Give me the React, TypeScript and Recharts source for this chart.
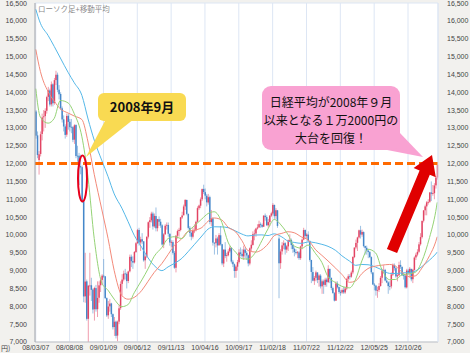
import React from 'react';
import { ComposedChart, Bar, Line, XAxis, YAxis, CartesianGrid, ReferenceLine } from 'recharts';

const tickLabels = ['08/03/07','08/08/08','09/01/09','09/06/12','09/11/13','10/04/16','10/09/17','11/02/18','11/07/22','11/12/22','12/05/25','12/10/26'];
const TICK_STEP = 22;
const yTicks = [7000,7500,8000,8500,9000,9500,10000,10500,11000,11500,12000,12500,13000,13500,14000,14500,15000,15500,16000,16500];

const opens = [
13460,12790,12100,12270,12830,13300,13330,13480,13870,14050,
13660,14220,13700,14340,14490,14070,13950,13550,13240,13040,
12810,13340,13170,13030,13020,12670,13080,12220,12220,11930,
11900,10940,8280,8700,7650,8580,8590,8470,7920,8510,
7920,8240,8590,8740,8860,8840,8230,7750,8000,8080,
7780,7420,7570,7180,7570,7950,8630,8750,8920,8910,
8710,8980,9390,9270,9230,9520,9770,10140,9790,9880,
9820,9290,9400,9950,10360,10410,10600,10240,10530,10190,
10440,10370,10270,9730,10020,10260,10280,10030,9790,9800,
9500,9080,9980,10110,10140,10490,10550,10800,10980,10590,
10200,10060,9950,10120,10130,10370,10750,10820,11000,11290,
11200,11100,10910,11060,10360,10460,9780,9770,9900,9710,
9990,9740,9200,9590,9410,9430,9540,9640,9250,9180,
8990,9110,9240,9510,9470,9400,9590,9500,9430,9200,
9620,9720,10020,10040,10180,10210,10300,10280,10230,10540,
10500,10270,10360,10540,10600,10840,10530,10690,9900,9210,
9540,9710,9770,9590,9680,9850,9860,9720,9610,9520,
9490,9510,9350,9680,9870,10140,9970,10010,9830,9300,
8960,8720,8800,8950,8740,8860,8560,8700,8600,8750,
8680,9050,8800,8510,8370,8160,8640,8540,8400,8390,
8460,8390,8500,8770,8840,8830,8950,9380,9650,9780,
9930,10130,10010,10080,9690,9640,9560,9520,9380,8950,
8610,8580,8440,8460,8570,8800,9000,9020,8720,8670,
8570,8560,8890,9160,9070,8840,8870,9160,9110,8870,
8860,8530,9000,8930,9050,8760,9020,9370,9450,9530,
9740,9940,10400,10690,10800,10910,10930,11190,11150,11170,
11390,11610
];

const highs = [
13500,12900,12350,12900,13400,13500,13550,13900,14150,14100,
14300,14250,14400,14601,14550,14200,14000,13600,13350,13100,
13400,13400,13250,13250,13050,13100,13100,12500,12300,12250,
11950,10950,9500,8750,8600,9500,8800,8500,8550,8600,
8700,8700,8800,8900,9325,8850,8250,8150,8200,8100,
7800,7700,7600,7600,8050,8700,8900,9000,9050,8950,
9000,9450,9450,9400,9550,9800,10170,10200,9950,10050,
9830,9450,9970,10380,10500,10650,10650,10600,10770,10450,
10520,10450,10300,10050,10300,10350,10350,10050,9850,9850,
9550,10000,10150,10200,10500,10650,10850,11000,10990,10600,
10250,10100,10200,10300,10400,10800,10850,11050,11300,11408,
11300,11150,11150,11100,10700,10500,9800,10000,9950,10050,
10250,9750,9600,9800,9500,9600,9700,9650,9300,9200,
9150,9300,9600,9650,9600,9700,9650,9550,9450,9650,
9850,10100,10150,10200,10300,10400,10350,10320,10550,10600,
10550,10450,10550,10650,10891,10850,10750,10700,9960,9600,
9800,9850,9800,9720,9870,10017,9900,9750,9650,9600,
9550,9550,9700,9900,10200,10150,10050,10100,9850,9300,
9100,8850,9000,8950,8900,8900,8750,8750,8800,8800,
9150,9050,8800,8550,8400,8700,8700,8550,8450,8500,
8550,8550,8800,8900,8900,9000,9400,9650,9870,9950,
10150,10255,10150,10100,9700,9700,9600,9550,9400,8950,
8650,8600,8550,8650,8850,9050,9150,9050,8800,8700,
8700,8950,9200,9200,9100,8900,9250,9290,9100,8900,
8900,9050,9050,9100,9050,9050,9400,9500,9600,9800,
10050,10400,10700,10850,10950,11000,11200,11500,11400,11450,
11650,12000
];

const lows = [
12700,12150,11691,12200,12650,12900,13000,13400,13750,13600,
13600,13600,13650,14200,14000,13800,13500,13150,12900,12700,
12750,12950,12900,12850,12600,12550,12150,12050,11400,11700,
10900,8115,8100,7600,6995,8300,8150,7800,7600,7850,
7700,8100,8400,8600,8800,8200,7700,7650,7850,7700,
7350,7170,7100,7021,7500,7900,8300,8700,8750,8500,
8650,8950,9100,9050,9200,9500,9750,9700,9550,9750,
9250,9050,9350,9900,10200,10350,10150,10200,10100,10100,
10250,10200,9700,9630,10000,10150,9950,9700,9650,9450,
9050,8950,9900,9950,10100,10450,10550,10700,10550,10150,
9950,9850,9900,10050,10100,10350,10700,10750,10950,11150,
11000,10800,10850,10300,10250,9700,9450,9650,9450,9700,
9700,9150,9100,9350,9250,9400,9500,9200,9100,8800,
8800,9000,9200,9400,9350,9300,9350,9300,9120,9150,
9550,9700,9850,9950,10150,10200,10200,10200,10230,10400,
10250,10200,10250,10500,10550,10450,10450,10200,8227,9050,
9450,9600,9450,9500,9550,9800,9600,9500,9400,9450,
9350,9300,9300,9600,9850,9900,9900,9800,9250,8650,
8700,8600,8700,8650,8550,8500,8350,8350,8550,8550,
8650,8650,8450,8350,8135,8150,8500,8350,8300,8350,
8350,8350,8450,8700,8750,8800,8900,9350,9600,9550,
9900,9900,9950,9650,9450,9450,9350,9350,8900,8600,
8450,8300,8238,8400,8550,8650,8950,8700,8650,8350,
8450,8500,8850,9000,8800,8700,8850,9050,8850,8750,
8500,8500,8900,8800,8700,8650,9000,9300,9400,9500,
9700,9900,10350,10550,10550,10850,10900,10950,11100,11000,
11300,11550
];

const closes = [
12782,12241,12260,12821,13293,13323,13476,13863,14049,13655,
14219,13690,14338,14489,14068,13942,13544,13237,13039,12803,
13334,13168,13021,13019,12666,13072,12212,12215,11920,11893,
10938,8276,8693,7649,8576,8583,8462,7910,8512,7917,
8235,8588,8739,8859,8836,8230,7745,7994,8076,7779,
7416,7568,7173,7569,7945,8626,8749,8916,8907,8707,
8977,9386,9265,9225,9522,9768,10135,9786,9877,9816,
9287,9395,9944,10356,10412,10598,10238,10534,10187,10444,
10370,10265,9731,10016,10257,10282,10034,9789,9804,9497,
9081,9977,10107,10142,10494,10546,10798,10982,10590,10198,
10057,9951,10123,10126,10368,10751,10824,10996,11286,11204,
11102,10914,11057,10364,10462,9784,9768,9901,9705,9995,
9737,9203,9585,9408,9431,9537,9642,9253,9179,8991,
9114,9239,9509,9471,9404,9588,9500,9426,9202,9625,
9725,10022,10039,10178,10211,10303,10279,10228,10541,10499,
10274,10360,10543,10605,10842,10526,10693,10254,9206,9536,
9708,9768,9591,9682,9849,9859,9716,9607,9521,9492,
9514,9351,9678,9868,10137,9974,10010,9833,9299,8963,
8719,8797,8950,8737,8864,8560,8700,8605,8747,8678,
9050,8801,8514,8374,8160,8643,8536,8401,8395,8455,
8390,8500,8766,8841,8831,8947,9384,9647,9777,9929,
10130,10011,10083,9688,9638,9561,9520,9380,8953,8611,
8580,8440,8459,8569,8798,9006,9020,8724,8669,8566,
8555,8891,9162,9070,8839,8871,9159,9110,8870,8863,
8534,9002,8933,9051,8757,9024,9366,9446,9527,9737,
9940,10395,10688,10801,10913,10926,11191,11153,11173,11386,
11606,11968
];

// moving averages read at roughly month-end weeks
const maIdx = [
0,3,8,12,16,21,25,30,34,38,43,
47,51,56,60,64,69,73,77,82,86,90,95,
99,103,108,112,116,121,125,130,134,138,143,147,
151,155,160,164,168,173,177,182,186,190,195,199,
204,208,212,216,221,225,230,234,238,243,247,251,
256,260,261
];
const ma13 = [
14100,13300,13133,13267,13767,13700,13400,12750,11600,9900,8650,
8450,8200,7990,8050,8380,8740,9050,9400,9650,9900,9950,9900,
10100,10250,10450,10600,10650,10350,9800,9517,9333,9323,9523,9840,
10173,10433,10250,10007,9690,9627,9717,9473,9230,8827,8663,8560,
8517,8763,9273,9600,9493,9033,8747,8753,8880,8910,8960,9260,
9927,10653,10914
];
const ma26 = [
15200,14583,14017,13750,13533,13417,13333,13233,12600,11700,10700,
9900,9000,8300,8200,8250,8450,8700,8950,9200,9450,9700,9900,
10100,10133,10208,10383,10475,10417,10217,10083,9842,9562,9520,9587,
9748,9978,10045,10090,10062,9938,9862,9582,9428,9272,9068,8895,
8672,8713,8917,9058,9128,9153,9173,9123,8957,8828,8857,9070,
9418,9807,9950
];
const ma52 = [
16325,15933,15592,15283,14958,14558,14267,13908,13250,12658,12079,
11633,11150,10750,10375,9992,9642,9358,9142,9000,9104,9200,9346,
9529,9725,9971,10163,10229,10225,10204,10108,10025,9973,9998,10002,
9983,10031,9943,9826,9791,9763,9805,9780,9737,9681,9565,9417,
9267,9148,9173,9165,9098,9024,8923,8918,8937,8943,8993,9112,
9296,9465,9520
];

type Row = { i: number; range: [number, number]; o: number; c: number; lo: number; hi: number; ma13?: number; ma26?: number; ma52?: number };
const data: Row[] = closes.map((c, i) => ({ i, range: [lows[i], highs[i]], o: opens[i], c, lo: lows[i], hi: highs[i] }));
maIdx.forEach((idx, k) => {
  data[idx].ma13 = ma13[k];
  data[idx].ma26 = ma26[k];
  data[idx].ma52 = ma52[k];
});
const xTicks = tickLabels.map((_, k) => k * TICK_STEP);

const UP = '#e0385a';
const DOWN = '#3a80c6';

const Candle = (props: any) => {
  const { x, y, width, height, payload } = props;
  if (!payload || height == null) return null;
  const { o, c, lo, hi } = payload;
  const span = hi - lo || 1;
  const py = (v: number) => y + ((hi - v) / span) * height;
  const cx = x + width / 2;
  const up = c >= o;
  const color = up ? UP : DOWN;
  const top = py(Math.max(o, c));
  const bot = py(Math.min(o, c));
  const bw = 1.5;
  return (
    <g>
      <line x1={cx} x2={cx} y1={y} y2={y + height} stroke={color} strokeWidth={0.9} strokeOpacity={0.55} />
      <rect x={cx - bw / 2} y={top} width={bw} height={Math.max(0.8, bot - top)} fill={color} fillOpacity={0.9} />
    </g>
  );
};

const fmt = (v: number) => v.toLocaleString('en-US');
const tickStyle = { fontSize: 7, fill: '#444', fontFamily: 'Liberation Sans, Arial, sans-serif' };

// arrow geometry (annotation)
const arrowTail = { x: 392, y: 251 };
const arrowTip = { x: 432, y: 155 };
const arrowPoints = (() => {
  const dx = arrowTip.x - arrowTail.x, dy = arrowTip.y - arrowTail.y;
  const len = Math.hypot(dx, dy);
  const ux = dx / len, uy = dy / len;
  const nx = -uy, ny = ux;
  const hw = 5.5, hh = 12, hl = 19;
  const bx = arrowTip.x - ux * hl, by = arrowTip.y - uy * hl;
  const p = [
    [arrowTail.x + nx * hw, arrowTail.y + ny * hw],
    [bx + nx * hw, by + ny * hw],
    [bx + nx * hh, by + ny * hh],
    [arrowTip.x, arrowTip.y],
    [bx - nx * hh, by - ny * hh],
    [bx - nx * hw, by - ny * hw],
    [arrowTail.x - nx * hw, arrowTail.y - ny * hw],
  ];
  return p.map((q) => q.map((n) => n.toFixed(1)).join(',')).join(' ');
})();

export default function App() {
  return (
    <div style={{ position: 'absolute', left: 0, top: 0, width: 470, height: 353, background: '#f2f1ee', overflow: 'hidden' }}>
      <ComposedChart width={470} height={353} data={data} margin={{ top: 3, right: 0, bottom: 0, left: 0 }} barCategoryGap={0} barGap={0}>
        <CartesianGrid stroke="#dde6f4" strokeWidth={1} fill="#ffffff" horizontal vertical />
        <XAxis dataKey="i" type="category" ticks={xTicks} interval={0} tickFormatter={(v: number) => tickLabels[Math.round(v / TICK_STEP)] ?? ''}
          height={11} tickLine={false} tickSize={2} tickMargin={1} axisLine={{ stroke: '#c4c4c4' }} tick={tickStyle} />
        <YAxis yAxisId="left" orientation="left" width={35} domain={[7000, 16500]} ticks={yTicks} interval={0} tickFormatter={fmt}
          tickLine={false} tickSize={6} tickMargin={2} axisLine={{ stroke: '#a8a8a8' }} tick={tickStyle} allowDataOverflow />
        <YAxis yAxisId="right" orientation="right" width={32} domain={[7000, 16500]} ticks={yTicks} interval={0} tickFormatter={fmt}
          tickLine={false} tickSize={6} tickMargin={3} axisLine={{ stroke: '#dde6f4' }} tick={tickStyle} allowDataOverflow />
        <Bar yAxisId="left" dataKey="range" shape={(p: any) => <Candle {...p} />} isAnimationActive={false} />
        <Line yAxisId="left" dataKey="ma52" type="monotone" stroke="#55b8e8" strokeWidth={1} dot={false} connectNulls isAnimationActive={false} />
        <Line yAxisId="left" dataKey="ma26" type="monotone" stroke="#f38a7a" strokeWidth={1} dot={false} connectNulls isAnimationActive={false} />
        <Line yAxisId="left" dataKey="ma13" type="monotone" stroke="#95d376" strokeWidth={1} dot={false} connectNulls isAnimationActive={false} />
        <ReferenceLine yAxisId="left" y={12000} stroke="#ff6a00" strokeWidth={3} strokeDasharray="8 4" />
      </ComposedChart>
      <svg width={470} height={353} style={{ position: 'absolute', left: 0, top: 0, pointerEvents: 'none' }}>
        <text x={38} y={12} fontSize={7.5} fill="#8a8a8a" fontFamily="Noto Sans CJK JP, sans-serif">ローソク足+移動平均</text>
        <text x={1} y={351} fontSize={7} fill="#444" fontFamily="Noto Sans CJK JP, sans-serif">円)</text>
        {/* yellow callout */}
        <polygon points="106,119 134,119 86,157" fill="#f9da52" />
        <rect x={98} y={93} width={88} height={28} rx={6} ry={6} fill="#f9da52" />
        <text x={142} y={112} textAnchor="middle" fontSize={13} fontWeight="bold" fill="#111" fontFamily="Noto Sans CJK JP, sans-serif">2008年9月</text>
        <ellipse cx={82.5} cy={178.5} rx={4.5} ry={23} fill="none" stroke="#e8001c" strokeWidth={2} />
        {/* pink callout */}
        <polygon points="382,149 399,132 423,157" fill="#f9a2d2" />
        <rect x={262} y={86} width={138} height={64} rx={9} ry={9} fill="#f9a2d2" />
        <g fontSize={12} fill="#111" textAnchor="middle" fontFamily="Noto Sans CJK JP, sans-serif">
          <text x={331} y={107}>日経平均が2008年９月</text>
          <text x={331} y={125}>以来となる１万2000円の</text>
          <text x={331} y={143}>大台を回復！</text>
        </g>
        <polygon points={arrowPoints} fill="#e00000" />
      </svg>
    </div>
  );
}
